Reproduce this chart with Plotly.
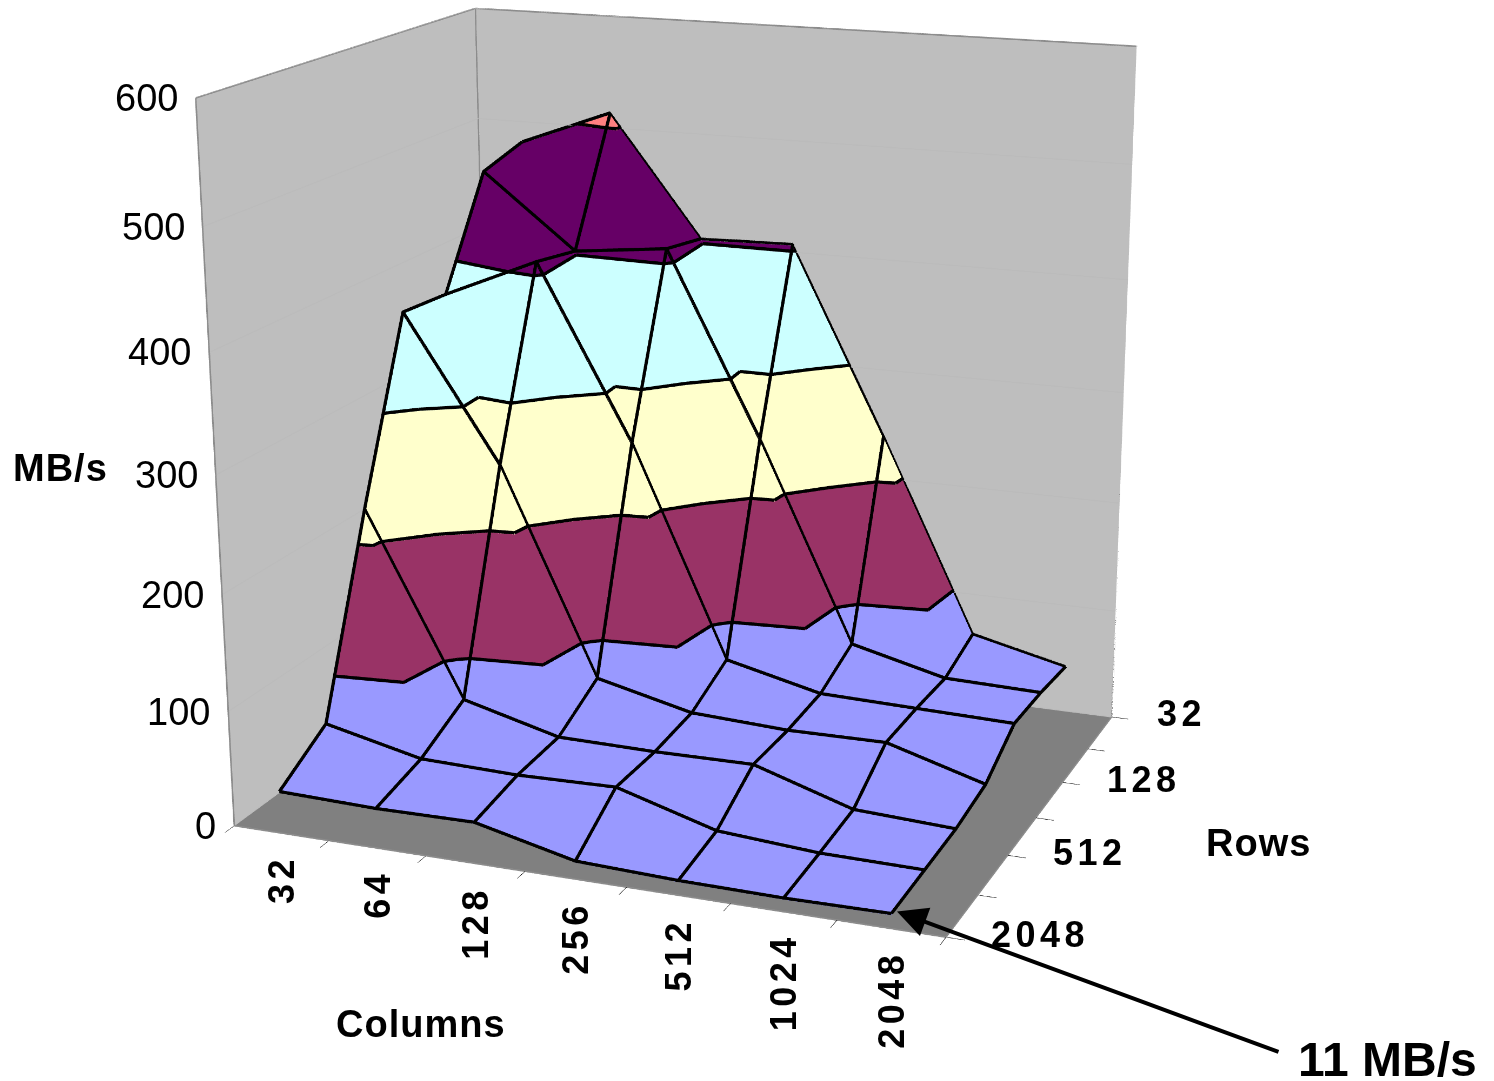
import math
import plotly.graph_objects as go

columns = ["32", "64", "128", "256", "512", "1024", "2048"]
rows = ["2048", "1024", "512", "256", "128", "64", "32"]
rate_2048 = [35, 33, 34, 14, 11, 10, 11]
rate_1024 = [64, 45, 43, 45, 20, 14, 13]
rate_512 = [227, 68, 46, 45, 46, 19, 15]
rate_256 = [378, 252, 70, 50, 46, 47, 22]
rate_128 = [375, 411, 258, 70, 50, 48, 46]
rate_64 = [468, 403, 412, 248, 68, 47, 45]
rate_32 = [480, 512, 404, 406, 238, 61, 41]
z_ticks = [0, 100, 200, 300, 400, 500, 600]
band_levels = [100, 200, 300, 400, 500]
band_colors = ["#9999FF", "#993366", "#FFFFCC", "#CCFFFF", "#660066", "#FF8080"]

Z = [rate_2048, rate_1024, rate_512, rate_256, rate_128, rate_64, rate_32]
X = list(range(len(columns)))
Y = list(range(len(rows)))
nx, ny = len(X), len(Y)
x_range = [-0.5, 6.5]
y_range = [0, 6]
z_range = [0, 600]

W, H = 1494, 1081
K = 2.45  # page is larger than the window so the fixed field of view gives a long lens
CW, CH = W * K, H * K
OX, OY = (CW - W) / 2, (CH - H) / 2
px = lambda v: (v + OX) / CW
py = lambda v: 1 - (v + OY) / CH
FONT = "Liberation Sans, Arial, sans-serif"
LIFT = 1.5


def node(x, y):
    return (x, y, Z[y][x])


tris = []
for y in range(ny - 1):
    for x in range(nx - 1):
        a, b, c, d = node(x, y), node(x + 1, y), node(x, y + 1), node(x + 1, y + 1)
        tris += [(a, b, c), (b, d, c)]


def clip(poly, level, keep_above):
    out = []
    for p, q in zip(poly, poly[1:] + poly[:1]):
        p_in = (p[2] >= level) if keep_above else (p[2] <= level)
        q_in = (q[2] >= level) if keep_above else (q[2] <= level)
        if p_in:
            out.append(p)
        if p_in != q_in:
            f = (level - p[2]) / (q[2] - p[2])
            out.append(tuple(p[m] + f * (q[m] - p[m]) for m in range(3)))
    return out


fig = go.Figure()
edges = [0] + band_levels + [600]
mx, my, mz, mi, mj, mk, mc = [], [], [], [], [], [], []
for b, color in enumerate(band_colors):
    for t in tris:
        poly = clip(clip(list(t), edges[b], True), edges[b + 1], False)
        if len(poly) >= 3:
            base = len(mx)
            for p in poly:
                mx.append(p[0]); my.append(p[1]); mz.append(p[2])
            for s in range(1, len(poly) - 1):
                mi.append(base); mj.append(base + s); mk.append(base + s + 1); mc.append(color)
fig.add_trace(go.Mesh3d(
    x=mx, y=my, z=mz, i=mi, j=mj, k=mk, facecolor=mc,
    lighting=dict(ambient=1, diffuse=0, specular=0, roughness=1, fresnel=0),
    hoverinfo="skip", flatshading=True,
))

lx, ly, lz = [], [], []
for y in Y:
    lx += X + [None]; ly += [y] * nx + [None]; lz += [v + LIFT for v in Z[y]] + [None]
for x in X:
    lx += [x] * ny + [None]; ly += Y + [None]; lz += [Z[y][x] + LIFT for y in Y] + [None]
for level in band_levels:
    for t in tris:
        pts = []
        for p, q in zip(t, t[1:] + t[:1]):
            if (p[2] - level) * (q[2] - level) < 0:
                f = (level - p[2]) / (q[2] - p[2])
                pts.append((p[0] + f * (q[0] - p[0]), p[1] + f * (q[1] - p[1])))
        if len(pts) == 2:
            lx += [pts[0][0], pts[1][0], None]
            ly += [pts[0][1], pts[1][1], None]
            lz += [level + LIFT, level + LIFT, None]
fig.add_trace(go.Scatter3d(x=lx, y=ly, z=lz, mode="lines", connectgaps=False,
                           line=dict(color="black", width=6), hoverinfo="skip"))

x0, x1 = x_range
y0, y1 = y_range
z0, z1 = z_range
fig.add_trace(go.Scatter3d(
    x=[x0, x0, x0, x1, x1, None, x0, x0],
    y=[y0, y0, y1, y1, y1, None, y1, y1],
    z=[z0, z1, z1, z1, z0, None, z0, z1],
    mode="lines", connectgaps=False, line=dict(color="#8C8C8C", width=3), hoverinfo="skip"))

phi, theta = math.radians(20.7), math.radians(17.8)
e = (math.sin(phi) * math.cos(theta), -math.cos(phi) * math.cos(theta), math.sin(theta))
r = (math.cos(phi), math.sin(phi), 0)
u = (-math.sin(theta) * math.sin(phi), math.sin(theta) * math.cos(phi), math.cos(theta))
unit_px = 714.0
shift_right, shift_down = 57.0, 109.0
center = tuple(shift_right / unit_px * a - shift_down / unit_px * b for a, b in zip(r, u))
dist = 4.479
eye = tuple(c + dist * v for c, v in zip(center, e))

wall = "#BEBEBE"
edge = "#8C8C8C"
TRACK = '<span style="letter-spacing:4.5px;font-weight:bold">%s</span>'

annots3d = []
for i, label in enumerate(columns):
    annots3d.append(dict(x=i, y=0, z=0, text=TRACK % label, showarrow=False, textangle=-90,
                         xanchor="center", yanchor="top", yshift=-20,
                         font=dict(family=FONT, size=36, color="black")))
for j, label in enumerate(rows):
    if j % 2 == 0:
        annots3d.append(dict(x=6.5, y=j, z=0, text=TRACK % label, showarrow=False,
                             xanchor="left", yanchor="middle", xshift=43, yshift=3,
                             font=dict(family=FONT, size=36, color="black")))
for v in z_ticks:
    annots3d.append(dict(x=-0.5, y=0, z=v, text=str(v), showarrow=False,
                         xanchor="right", yanchor="middle", xshift=-16,
                         font=dict(family=FONT, size=38, color="black")))

common = dict(title="", showspikes=False, showline=True, linecolor=edge, linewidth=3,
              zeroline=False, showbackground=True, showticklabels=False)
TITLE = '<span style="letter-spacing:1px;font-weight:bold">%s</span>'
fig.update_layout(
    width=CW, height=CH, margin=dict(l=0, r=0, t=0, b=0),
    paper_bgcolor="white", showlegend=False,
    scene=dict(
        domain=dict(x=[0, 1], y=[0, 1]),
        camera=dict(eye=dict(x=eye[0], y=eye[1], z=eye[2]),
                    center=dict(x=center[0], y=center[1], z=center[2]),
                    up=dict(x=0, y=0, z=1),
                    projection=dict(type="perspective")),
        aspectmode="manual", aspectratio=dict(x=737 / 714, y=600 / 714, z=1.015),
        xaxis=dict(range=x_range, tickvals=[k - 0.5 for k in range(8)], ticks="outside",
                   ticklen=14, tickcolor="black", showgrid=False, backgroundcolor=wall, **common),
        yaxis=dict(range=y_range, tickvals=Y, ticks="outside", ticklen=14, tickcolor="black",
                   showgrid=False, backgroundcolor=wall, **common),
        zaxis=dict(range=z_range, tickvals=z_ticks, ticks="", showgrid=True, gridcolor="#BBBBBB",
                   backgroundcolor="#808080", **common),
        annotations=annots3d,
    ),
    annotations=[
        dict(x=px(60), y=py(467), xref="paper", yref="paper", text=TITLE % "MB/s", showarrow=False,
             xanchor="center", yanchor="middle", font=dict(family=FONT, size=38, color="black")),
        dict(x=px(421), y=py(1024), xref="paper", yref="paper", text=TITLE % "Columns", showarrow=False,
             xanchor="center", yanchor="middle", font=dict(family=FONT, size=38, color="black")),
        dict(x=px(1259), y=py(843), xref="paper", yref="paper", text=TITLE % "Rows", showarrow=False,
             xanchor="center", yanchor="middle", font=dict(family=FONT, size=38, color="black")),
        dict(x=px(1388), y=py(1059), xref="paper", yref="paper", text="<b>11 MB/s</b>", showarrow=False,
             xanchor="center", yanchor="middle", font=dict(family=FONT, size=48, color="black")),
        dict(x=px(897), y=py(911), xref="paper", yref="paper", text="", showarrow=True,
             ax=1280 - 897, ay=1052 - 911, axref="pixel", ayref="pixel",
             arrowhead=2, arrowsize=1.5, arrowwidth=4, arrowcolor="black"),
    ],
)

post = ("document.documentElement.style.overflow='hidden';"
        "document.body.style.margin='0';document.body.style.overflow='hidden';"
        "var g=document.querySelector('.plotly-graph-div');"
        "g.style.position='fixed';g.style.left='%dpx';g.style.top='%dpx';" % (-OX, -OY))
fig.write_html("out.html", config=dict(displayModeBar=False), post_script=post)
